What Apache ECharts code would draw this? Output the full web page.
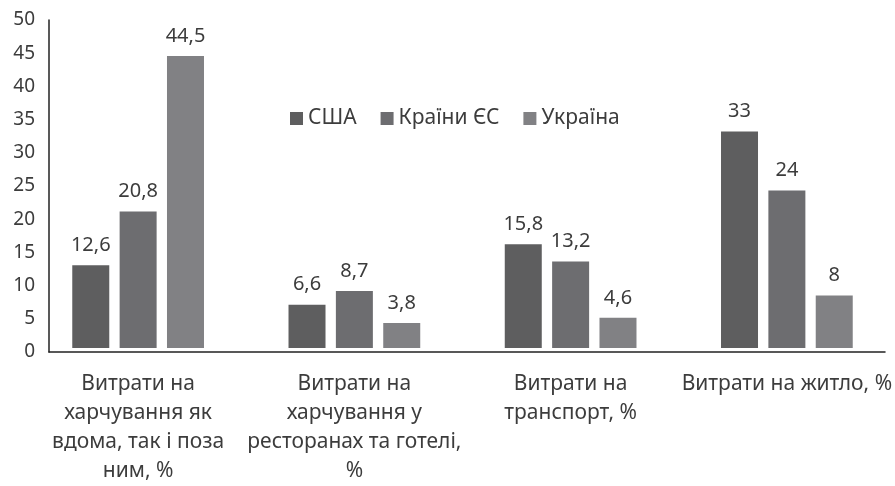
<!DOCTYPE html>
<html>
<head>
<meta charset="utf-8">
<script src="https://cdn.jsdelivr.net/npm/echarts@6/dist/echarts.min.js"></script>
<style>
  html, body { margin: 0; padding: 0; background: #fff; }
  #chart { width: 895px; height: 486px; }
</style>
</head>
<body>
<div id="chart"></div>
<script>
var categories = [
  'Витрати на\nхарчування як\nвдома, так і поза\nним, %',
  'Витрати на\nхарчування у\nресторанах та готелі,\n%',
  'Витрати на\nтранспорт, %',
  'Витрати на житло, %'
];
var seriesNames = ['США', 'Країни ЄС', 'Україна'];
var usaData = [12.6, 6.6, 15.8, 33];
var euData = [20.8, 8.7, 13.2, 24];
var uaData = [44.5, 3.8, 4.6, 8];
var colors = ['#5e5e5f', '#6d6d70', '#818184'];

var chart = echarts.init(document.getElementById('chart'));
var font = 'Noto Sans';
var textColor = '#3c3c3c';

function makeSeries(name, data, color) {
  return {
    name: name,
    type: 'bar',
    xAxisIndex: 1,
    yAxisIndex: 1,
    barWidth: 37,
    barGap: '28%',
    data: data,
    itemStyle: { color: color },
    label: {
      show: true,
      position: 'top',
      distance: 10,
      fontFamily: font,
      fontSize: 20,
      color: textColor,
      formatter: function (p) { return String(p.value).replace('.', ','); }
    }
  };
}

var option = {
  animation: false,
  color: colors,
  legend: {
    left: 285,
    top: 103,
    itemWidth: 13,
    itemHeight: 13,
    itemGap: 24,
    icon: 'rect',
    textStyle: { fontFamily: font, fontSize: 21, color: textColor },
    data: seriesNames
  },
  grid: [
    { left: 49, right: 10, top: 20, bottom: 134 },
    { left: 30, width: 867, top: 20, bottom: 134 }
  ],
  xAxis: [
    {
      gridIndex: 0,
      type: 'category',
      data: categories,
      axisLine: { lineStyle: { color: '#222', width: 1.5 } },
      axisTick: { show: false },
      axisLabel: { show: false }
    },
    {
      gridIndex: 1,
      type: 'category',
      data: categories,
      axisLine: { show: false },
      axisTick: { show: false },
      axisLabel: {
        margin: 22,
        interval: 0,
        fontFamily: font,
        fontSize: 21,
        lineHeight: 29,
        color: textColor
      }
    }
  ],
  yAxis: [
    {
      gridIndex: 0,
      type: 'value',
      min: 0,
      max: 50,
      interval: 5,
      axisLine: { show: true, lineStyle: { color: '#222', width: 1.5 } },
      axisTick: { show: false },
      splitLine: { show: false },
      axisLabel: { margin: 14, fontFamily: font, fontSize: 19, color: textColor }
    },
    {
      gridIndex: 1,
      type: 'value',
      min: 0,
      max: 50,
      interval: 5,
      show: false,
      splitLine: { show: false }
    }
  ],
  series: [
    makeSeries(seriesNames[0], usaData, colors[0]),
    makeSeries(seriesNames[1], euData, colors[1]),
    makeSeries(seriesNames[2], uaData, colors[2])
  ]
};

chart.setOption(option);
</script>
</body>
</html>
